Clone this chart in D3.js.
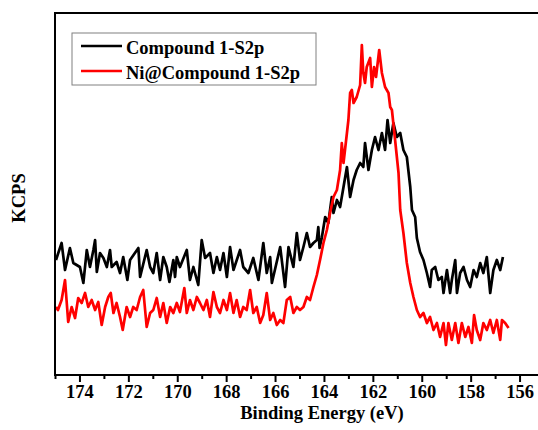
<!DOCTYPE html>
<html>
<head>
<meta charset="utf-8">
<script src="https://cdn.jsdelivr.net/npm/d3@7"></script>
<style>
  html, body { margin: 0; padding: 0; background: #fff; }
  svg { display: block; }
  text { font-family: "Liberation Serif", "Times New Roman", serif; font-weight: bold; }
</style>
</head>
<body>
<svg id="chart" width="538" height="430"></svg>
<script>
// ---- data (binding energy in eV, intensity in arbitrary KCPS units) ----
const seriesNames = ["Compound 1-S2p", "Ni@Compound 1-S2p"];
const seriesColors = ["#000000", "#ff0000"];

const compoundEnergy = [174.96,174.73,174.59,174.39,174.25,173.98,173.84,173.70,173.57,173.43,173.36,173.29,173.16,173.02,172.88,172.75,172.68,172.48,172.34,172.21,172.04,171.93,171.59,171.52,171.25,171.11,170.98,170.84,170.70,170.57,170.43,170.32,170.16,170.09,170.02,169.89,169.61,169.48,169.34,169.14,169.00,168.86,168.66,168.52,168.38,168.25,168.11,167.97,167.84,167.70,167.43,167.30,167.09,166.89,166.68,166.48,166.34,166.20,166.13,165.79,165.59,165.45,165.25,165.11,164.98,164.84,164.70,164.57,164.43,164.29,164.23,164.18,164.09,163.95,163.82,163.68,163.61,163.47,163.34,163.20,163.06,162.93,162.79,162.66,162.52,162.39,162.32,162.18,162.04,161.91,161.77,161.63,161.50,161.40,161.29,161.16,161.02,160.88,160.75,160.61,160.47,160.40,160.27,160.20,160.07,159.93,159.79,159.66,159.59,159.45,159.32,159.18,159.11,158.97,158.84,158.77,158.63,158.56,158.43,158.29,158.15,158.02,157.88,157.75,157.61,157.48,157.34,157.20,157.07,156.93,156.79,156.68];
const compoundKCPS = [11.5,13.2,10.5,12.7,11.2,10.8,9.2,12.5,10.8,12.5,13.5,10.3,12.2,11.7,10.8,12.5,10.8,11.3,10.2,11.8,9.5,11.5,12.7,9.8,12.5,10.8,10.2,12.2,9.5,11.8,10.8,9.3,11.5,9.8,11.8,10.8,12.5,9.5,10.8,9.0,13.5,11.7,12.2,10.2,11.8,10.5,12.2,9.8,12.8,10.5,12.5,10.8,10.2,11.7,9.5,13.2,10.2,11.8,9.2,12.8,8.8,12.8,10.8,14.2,11.5,12.8,14.2,12.8,13.2,13.5,14.8,12.7,13.7,15.8,15.2,17.8,16.2,17.5,16.8,18.8,20.8,17.8,19.5,20.5,21.2,20.8,23.2,20.5,22.5,23.8,22.5,24.2,22.5,25.5,23.2,25.2,23.8,24.2,22.5,21.8,18.8,16.5,15.8,13.7,12.3,11.5,10.2,8.8,10.5,10.8,9.5,9.8,8.2,10.5,8.2,9.5,11.5,8.2,10.2,10.8,9.5,8.8,10.5,9.8,11.2,10.2,11.8,8.2,10.5,11.5,10.5,11.8];

const niEnergy = [174.96,174.88,174.73,174.59,174.46,174.32,174.18,174.05,173.91,173.77,173.64,173.50,173.36,173.23,173.09,172.95,172.82,172.72,172.61,172.48,172.34,172.23,172.07,171.93,171.80,171.66,171.52,171.39,171.25,171.11,170.98,170.84,170.70,170.57,170.43,170.29,170.16,170.02,169.89,169.71,169.61,169.48,169.34,169.20,169.07,168.93,168.79,168.66,168.52,168.38,168.25,168.11,167.97,167.84,167.70,167.57,167.43,167.30,167.16,167.02,166.89,166.75,166.61,166.48,166.34,166.20,166.07,165.93,165.79,165.66,165.52,165.38,165.25,165.11,164.98,164.84,164.70,164.57,164.43,164.29,164.16,164.02,163.88,163.75,163.61,163.47,163.34,163.27,163.20,163.06,163.00,162.93,162.86,162.79,162.66,162.52,162.45,162.39,162.32,162.25,162.11,162.04,161.95,161.87,161.74,161.63,161.50,161.36,161.29,161.22,161.09,160.95,160.88,160.75,160.61,160.47,160.34,160.20,160.07,159.93,159.79,159.66,159.52,159.38,159.25,159.11,159.01,158.91,158.77,158.63,158.50,158.36,158.22,158.09,157.95,157.86,157.75,157.61,157.48,157.34,157.20,157.07,156.93,156.79,156.72,156.59,156.45];
const niKCPS = [6.8,6.5,7.5,9.5,5.3,6.8,5.7,7.7,7.2,8.2,6.8,7.5,6.5,7.3,5.0,6.8,7.8,8.2,6.2,7.2,5.8,4.5,6.8,5.8,6.8,6.5,7.8,8.5,4.8,6.2,6.5,7.7,5.8,7.2,5.2,6.8,6.2,7.2,6.3,8.7,6.2,7.5,6.5,7.8,7.2,6.5,7.5,5.8,8.3,6.8,6.2,7.5,6.5,8.2,6.2,7.5,5.8,6.8,6.5,8.5,6.2,6.8,5.2,6.0,8.2,5.5,6.2,5.0,5.5,5.2,7.5,7.8,6.2,6.8,6.5,6.8,7.8,7.5,8.8,10.0,11.5,13.2,14.5,16.2,17.8,18.5,20.5,23.2,21.2,24.2,25.5,28.2,28.5,27.2,27.8,29.0,33.0,30.2,29.2,30.8,31.7,28.8,30.8,29.8,32.5,30.2,28.8,28.2,26.8,26.5,23.5,20.2,16.5,14.2,11.2,9.2,7.8,6.5,5.8,6.2,5.2,5.8,4.5,5.2,3.8,5.2,3.0,5.2,3.5,5.2,3.2,5.2,3.8,4.8,3.2,6.0,4.5,3.5,5.2,4.5,5.5,4.2,5.5,3.5,5.5,5.2,4.7];

const xTickValues = [174,172,170,168,166,164,162,160,158,156];
const xMinorTicks = [175,173,171,169,167,165,163,161,159,157,155];
const xDomain = [175, 155];
const yDomain = [0, 36.2];
const xLabel = "Binding Energy (eV)";
const yLabel = "KCPS";

// ---- layout ----
const svg = d3.select("#chart");
const plot = { left: 55, top: 13, right: 544, bottom: 375 };

const x = d3.scaleLinear().domain(xDomain).range([plot.left, plot.right]);
const y = d3.scaleLinear().domain(yDomain).range([plot.bottom, plot.top]);

// series
const series = [
  { name: seriesNames[0], color: seriesColors[0], pts: compoundEnergy.map((e, i) => [e, compoundKCPS[i]]) },
  { name: seriesNames[1], color: seriesColors[1], pts: niEnergy.map((e, i) => [e, niKCPS[i]]) }
];

const line = d3.line().x(d => x(d[0])).y(d => y(d[1]));

svg.append("g").selectAll("path").data(series).join("path")
  .attr("d", d => line(d.pts))
  .attr("fill", "none")
  .attr("stroke", d => d.color)
  .attr("stroke-width", 2.7)
  .attr("stroke-linejoin", "round");

// frame
svg.append("rect")
  .attr("x", plot.left).attr("y", plot.top)
  .attr("width", plot.right - plot.left).attr("height", plot.bottom - plot.top)
  .attr("fill", "none").attr("stroke", "#000").attr("stroke-width", 2);

// x axis (major)
const xAxis = d3.axisBottom(x).tickValues(xTickValues).tickSize(7).tickSizeOuter(0).tickPadding(3).tickFormat(d3.format("d"));
const gx = svg.append("g").attr("transform", `translate(0,${plot.bottom})`).call(xAxis);
gx.select(".domain").remove();
gx.selectAll(".tick line").attr("stroke", "#000").attr("stroke-width", 2);
gx.selectAll(".tick text")
  .attr("fill", "#000")
  .style("font-family", '"Liberation Serif", serif')
  .style("font-weight", "bold")
  .style("font-size", "18.5px");

// minor ticks
const xMinor = d3.axisBottom(x).tickValues(xMinorTicks).tickSize(4).tickSizeOuter(0).tickFormat("");
const gxm = svg.append("g").attr("transform", `translate(0,${plot.bottom})`).call(xMinor);
gxm.select(".domain").remove();
gxm.selectAll(".tick line").attr("stroke", "#000").attr("stroke-width", 2);

// axis titles
svg.append("text")
  .attr("x", 322).attr("y", 419)
  .attr("text-anchor", "middle")
  .style("font-size", "18.5px")
  .text(xLabel);

svg.append("text")
  .attr("transform", "translate(25,198) rotate(-90)")
  .attr("text-anchor", "middle")
  .style("font-size", "18.5px")
  .text(yLabel);

// legend
const legend = svg.append("g");
legend.append("rect")
  .attr("x", 72).attr("y", 33).attr("width", 244).attr("height", 52)
  .attr("fill", "#fff").attr("stroke", "#808080").attr("stroke-width", 1);
const rows = legend.selectAll("g.row").data(series).join("g")
  .attr("class", "row")
  .attr("transform", (d, i) => `translate(0,${46 + i * 25})`);
rows.append("line")
  .attr("x1", 81).attr("x2", 122).attr("y1", 0).attr("y2", 0)
  .attr("stroke", d => d.color).attr("stroke-width", 2.4);
rows.append("text")
  .attr("x", 126).attr("y", 8)
  .style("font-size", "18.5px")
  .text(d => d.name);
</script>
</body>
</html>
